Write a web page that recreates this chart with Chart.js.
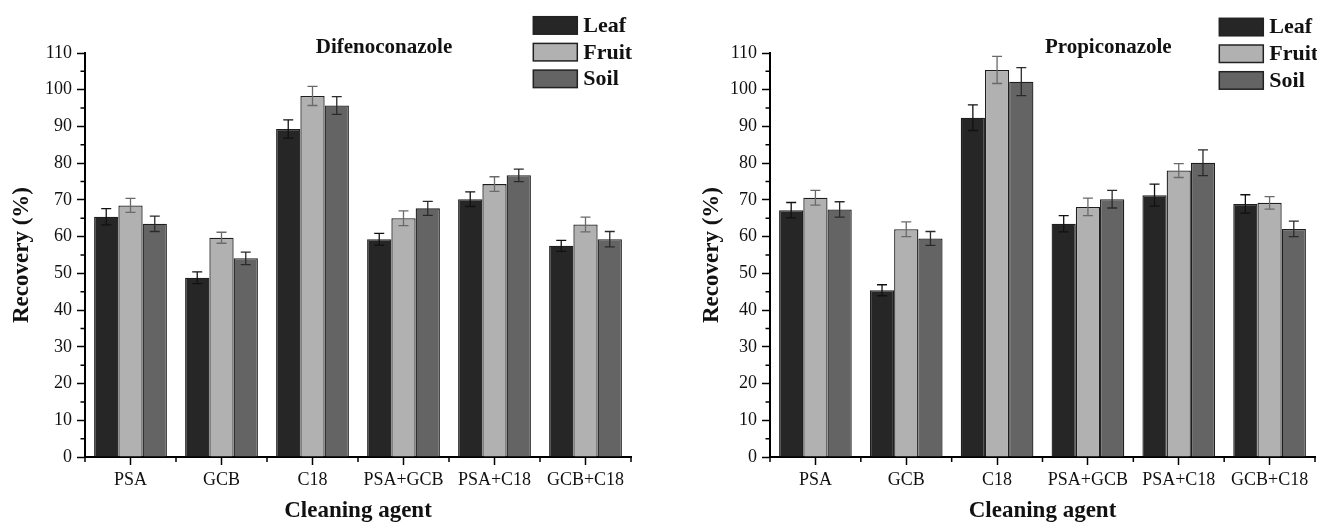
<!DOCTYPE html>
<html>
<head>
<meta charset="utf-8">
<title>Recovery by cleaning agent</title>
<style>
  body { margin: 0; background: #fff; }
  #wrap { position: relative; width: 1317px; height: 525px; overflow: hidden; }
  canvas { position: absolute; top: 0; }
  #leftChart { left: 0; }
  #rightChart { left: 680px; }
</style>
</head>
<body>
<div id="wrap">
  <canvas id="leftChart" width="650" height="525"></canvas>
  <canvas id="rightChart" width="637" height="525"></canvas>
</div>
<script src="https://cdn.jsdelivr.net/npm/chart.js"></script>
<script>
// categories and series
const categories = ['PSA', 'GCB', 'C18', 'PSA+GCB', 'PSA+C18', 'GCB+C18'];
const seriesNames = ['Leaf', 'Fruit', 'Soil'];

// Difenoconazole
const difLeaf  = [65.4, 48.8, 89.3, 59.3, 70.2, 57.5];
const difFruit = [68.5, 59.7, 98.3, 65.0, 74.3, 63.3];
const difSoil  = [63.5, 54.1, 95.7, 67.7, 76.7, 59.3];
const difLeafErr  = [2.2, 1.6, 2.5, 1.6, 2.0, 1.5];
const difFruitErr = [1.9, 1.5, 2.6, 2.0, 2.0, 2.0];
const difSoilErr  = [2.1, 1.7, 2.4, 1.9, 1.7, 2.1];

// Propiconazole
const proLeaf  = [67.2, 45.4, 92.4, 63.5, 71.3, 68.9];
const proFruit = [70.6, 62.0, 105.4, 68.1, 78.0, 69.2];
const proSoil  = [67.4, 59.5, 102.2, 70.2, 80.1, 62.1];
const proLeafErr  = [2.1, 1.5, 3.5, 2.2, 3.0, 2.5];
const proFruitErr = [2.0, 2.0, 3.7, 2.4, 1.9, 1.7];
const proSoilErr  = [2.1, 1.9, 3.8, 2.4, 3.5, 2.1];

// y axis ticks
const yMin = 0, yMax = 110, yStep = 10;
const yMinorTicks = [5, 15, 25, 35, 45, 55, 65, 75, 85, 95, 105];

const barColors = ['#262626', '#b1b1b1', '#646464'];
const errColors = ['#111111', '#6a6a6a', '#2a2a2a'];
const serif = '"Liberation Serif", "Times New Roman", serif';

Chart.defaults.font.family = serif;
Chart.defaults.color = '#111';

// error bars drawn from the bar elements
const errorBars = {
    id: 'errorBars',
    afterDatasetsDraw(chart) {
        const ctx = chart.ctx;
        const y = chart.scales.y;
        chart.data.datasets.forEach((ds, di) => {
            const meta = chart.getDatasetMeta(di);
            ctx.save();
            ctx.strokeStyle = ds.errColor;
            ctx.lineWidth = 1.3;
            meta.data.forEach((bar, i) => {
                const v = ds.data[i], e = ds.errors[i];
                const top = y.getPixelForValue(v + e);
                const bot = y.getPixelForValue(v - e);
                ctx.beginPath();
                ctx.moveTo(bar.x, top); ctx.lineTo(bar.x, bot);
                ctx.moveTo(bar.x - 5, top); ctx.lineTo(bar.x + 5, top);
                ctx.moveTo(bar.x - 5, bot); ctx.lineTo(bar.x + 5, bot);
                ctx.stroke();
            });
            ctx.restore();
        });
    }
};

// minor ticks, legend box and panel title
const extras = {
    id: 'extras',
    afterDraw(chart, args, opts) {
        const ctx = chart.ctx;
        const x = chart.scales.x, y = chart.scales.y;
        const area = chart.chartArea;
        ctx.save();
        ctx.strokeStyle = '#000';
        ctx.lineWidth = 1.5;
        ctx.beginPath();
        yMinorTicks.forEach(v => {
            const py = y.getPixelForValue(v);
            ctx.moveTo(area.left, py); ctx.lineTo(area.left - 4.5, py);
        });
        for (let i = 0; i <= categories.length; i++) {
            const px = x.getPixelForValue(i - 0.5);
            ctx.moveTo(px, area.bottom); ctx.lineTo(px, area.bottom + 5);
        }
        ctx.stroke();

        // legend
        ctx.font = 'bold 22px ' + serif;
        ctx.textBaseline = 'middle';
        ctx.textAlign = 'left';
        chart.data.datasets.forEach((ds, i) => {
            const bx = opts.legendX, by = opts.legendY + i * 26.7;
            ctx.fillStyle = ds.backgroundColor;
            ctx.fillRect(bx, by, 44, 17.5);
            ctx.strokeStyle = '#222';
            ctx.lineWidth = 1.5;
            ctx.strokeRect(bx, by, 44, 17.5);
            ctx.fillStyle = '#111';
            ctx.fillText(ds.label, bx + 50, by + 9.5);
        });

        // title
        ctx.font = 'bold 21px ' + serif;
        ctx.textAlign = 'center';
        ctx.fillText(opts.title, opts.titleX, opts.titleY);
        ctx.restore();
    }
};

function makeChart(canvasId, values, errors, o) {
    const datasets = seriesNames.map((name, i) => ({
        label: name,
        data: values[i],
        errors: errors[i],
        errColor: errColors[i],
        backgroundColor: barColors[i],
        borderColor: '#1e1e1e',
        borderWidth: 1.3,
        categoryPercentage: 0.8,
        barPercentage: 1.0
    }));
    return new Chart(document.getElementById(canvasId), {
        type: 'bar',
        data: { labels: categories, datasets: datasets },
        plugins: [errorBars, extras],
        options: {
            responsive: false,
            animation: false,
            devicePixelRatio: 1,
            layout: { padding: { left: 0, top: 53, right: o.padRight, bottom: 0 } },
            plugins: {
                legend: { display: false },
                tooltip: { enabled: false },
                extras: { title: o.title, titleX: o.titleX, titleY: 48, legendX: o.legendX, legendY: o.legendY }
            },
            scales: {
                x: {
                    afterFit(s) { s.height = 68; },
                    grid: { display: true, drawOnChartArea: false, offset: false, tickLength: 8, tickWidth: 1.5, tickColor: '#000' },
                    border: { display: true, color: '#000', width: 2 },
                    ticks: { font: { size: 18 }, color: '#111', padding: 4, maxRotation: 0, autoSkip: false },
                    title: { display: true, text: 'Cleaning agent', font: { size: 23, weight: 'bold' }, color: '#111', padding: { top: 0, bottom: 0 } }
                },
                y: {
                    min: yMin,
                    max: yMax,
                    afterFit(s) { s.width = o.yWidth; },
                    grid: { display: true, drawOnChartArea: false, tickLength: 8, tickWidth: 1.5, tickColor: '#000' },
                    border: { display: true, color: '#000', width: 2 },
                    ticks: { stepSize: yStep, font: { size: 18 }, color: '#111', padding: 5 },
                    title: { display: true, text: 'Recovery (%)', font: { size: 23, weight: 'bold' }, color: '#111', padding: { top: o.yTitlePad, bottom: 0 } }
                }
            }
        }
    });
}

makeChart('leftChart', [difLeaf, difFruit, difSoil], [difLeafErr, difFruitErr, difSoilErr],
    { title: 'Difenoconazole', titleX: 384, legendX: 533.3, legendY: 16.7, yWidth: 85, yTitlePad: 8, padRight: 19 });
makeChart('rightChart', [proLeaf, proFruit, proSoil], [proLeafErr, proFruitErr, proSoilErr],
    { title: 'Propiconazole', titleX: 428.3, legendX: 539.3, legendY: 18.3, yWidth: 90, yTitlePad: 18, padRight: 2 });
</script>
</body>
</html>
